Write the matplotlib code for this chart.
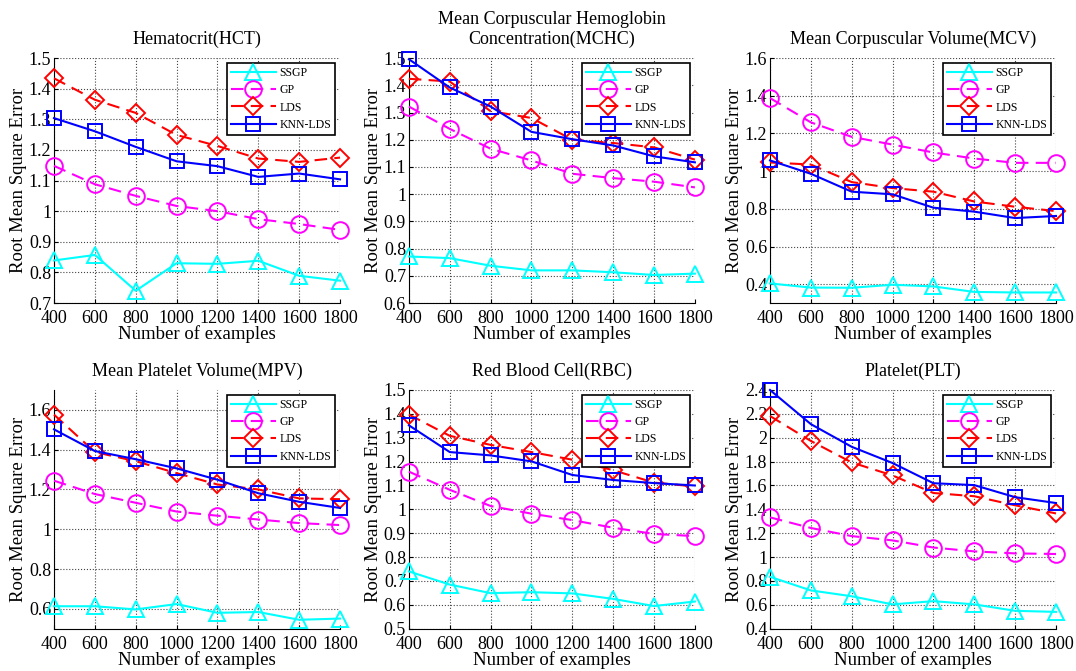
import matplotlib
matplotlib.use("Agg")
import matplotlib.pyplot as plt

plt.rcParams["font.family"] = ["Liberation Serif", "DejaVu Serif"]

# x 轴：训练样本数
n_examples = [400, 600, 800, 1000, 1200, 1400, 1600, 1800]
methods = ["SSGP", "GP", "LDS", "KNN-LDS"]

titles = [
    "Hematocrit(HCT)",
    "Mean Corpuscular Hemoglobin\nConcentration(MCHC)",
    "Mean Corpuscular Volume(MCV)",
    "Mean Platelet Volume(MPV)",
    "Red Blood Cell(RBC)",
    "Platelet(PLT)",
]

# 每个子图的 RMSE（顺序: SSGP, GP, LDS, KNN-LDS）
hct_ssgp = [0.839, 0.857, 0.740, 0.830, 0.828, 0.838, 0.789, 0.773]
hct_gp = [1.148, 1.088, 1.050, 1.017, 1.000, 0.974, 0.958, 0.939]
hct_lds = [1.434, 1.364, 1.321, 1.249, 1.213, 1.172, 1.161, 1.175]
hct_knn = [1.304, 1.261, 1.210, 1.163, 1.147, 1.112, 1.123, 1.104]

mchc_ssgp = [0.771, 0.765, 0.737, 0.720, 0.720, 0.713, 0.703, 0.708]
mchc_gp = [1.322, 1.240, 1.167, 1.124, 1.075, 1.059, 1.046, 1.025]
mchc_lds = [1.424, 1.414, 1.305, 1.280, 1.200, 1.188, 1.172, 1.127]
mchc_knn = [1.496, 1.392, 1.322, 1.229, 1.202, 1.179, 1.139, 1.117]

mcv_ssgp = [0.404, 0.382, 0.381, 0.397, 0.388, 0.359, 0.356, 0.356]
mcv_gp = [1.388, 1.259, 1.182, 1.141, 1.099, 1.067, 1.044, 1.044]
mcv_lds = [1.046, 1.035, 0.942, 0.910, 0.891, 0.839, 0.811, 0.788]
mcv_knn = [1.057, 0.986, 0.891, 0.877, 0.806, 0.785, 0.751, 0.762]

mpv_ssgp = [0.613, 0.613, 0.597, 0.624, 0.580, 0.584, 0.545, 0.551]
mpv_gp = [1.244, 1.177, 1.133, 1.089, 1.068, 1.049, 1.031, 1.021]
mpv_lds = [1.576, 1.388, 1.342, 1.282, 1.225, 1.200, 1.155, 1.151]
mpv_knn = [1.502, 1.393, 1.352, 1.306, 1.249, 1.181, 1.138, 1.107]

rbc_ssgp = [0.740, 0.685, 0.649, 0.653, 0.648, 0.625, 0.595, 0.614]
rbc_gp = [1.158, 1.082, 1.014, 0.982, 0.955, 0.923, 0.897, 0.888]
rbc_lds = [1.397, 1.308, 1.270, 1.240, 1.208, 1.164, 1.112, 1.096]
rbc_knn = [1.352, 1.240, 1.226, 1.201, 1.144, 1.123, 1.110, 1.100]

plt_ssgp = [0.835, 0.721, 0.672, 0.604, 0.631, 0.604, 0.550, 0.541]
plt_gp = [1.333, 1.244, 1.176, 1.140, 1.080, 1.048, 1.031, 1.026]
plt_lds = [2.182, 1.973, 1.793, 1.684, 1.537, 1.510, 1.434, 1.366]
plt_knn = [2.400, 2.114, 1.924, 1.788, 1.619, 1.603, 1.502, 1.453]

all_data = [
    [hct_ssgp, hct_gp, hct_lds, hct_knn],
    [mchc_ssgp, mchc_gp, mchc_lds, mchc_knn],
    [mcv_ssgp, mcv_gp, mcv_lds, mcv_knn],
    [mpv_ssgp, mpv_gp, mpv_lds, mpv_knn],
    [rbc_ssgp, rbc_gp, rbc_lds, rbc_knn],
    [plt_ssgp, plt_gp, plt_lds, plt_knn],
]

# 纵轴范围与刻度
ylims = [(0.7, 1.5), (0.6, 1.5), (0.3, 1.6), (0.5, 1.7), (0.5, 1.5), (0.4, 2.4)]
ytick_sets = [
    [0.7, 0.8, 0.9, 1.0, 1.1, 1.2, 1.3, 1.4, 1.5],
    [0.6, 0.7, 0.8, 0.9, 1.0, 1.1, 1.2, 1.3, 1.4, 1.5],
    [0.4, 0.6, 0.8, 1.0, 1.2, 1.4, 1.6],
    [0.6, 0.8, 1.0, 1.2, 1.4, 1.6],
    [0.5, 0.6, 0.7, 0.8, 0.9, 1.0, 1.1, 1.2, 1.3, 1.4, 1.5],
    [0.4, 0.6, 0.8, 1.0, 1.2, 1.4, 1.6, 1.8, 2.0, 2.2, 2.4],
]

styles = [
    dict(color="#00FFFF", marker="^", linestyle="-", markersize=12),
    dict(color="#FF00FF", marker="o", linestyle=(0, (6, 3.5)), markersize=12),
    dict(color="#FF0000", marker="D", linestyle=(0, (6, 3.5)), markersize=9.5),
    dict(color="#0000FF", marker="s", linestyle="-", markersize=10.5),
]

fig = plt.figure(figsize=(10.76, 6.71), dpi=100)

# 子图位置（图像坐标比例）
lefts = [0.0502, 0.380, 0.7156]
bottoms = [0.5484, 0.063]
width = 0.2658
heights = [0.365, 0.3558]


def fmt_tick(v):
    s = f"{v:.1f}"
    if s.endswith(".0"):
        s = s[:-2]
    return s


for idx in range(6):
    r, c = divmod(idx, 3)
    ax = fig.add_axes([lefts[c], bottoms[r], width, heights[r]])
    for series, name, st in zip(all_data[idx], methods, styles):
        ax.plot(n_examples, series, label=name, linewidth=1.5,
                markerfacecolor="none", markeredgewidth=1.4, clip_on=False,
                zorder=3, **st)
    ax.set_xlim(400, 1800)
    ax.set_ylim(*ylims[idx])
    ax.set_xticks(n_examples)
    ax.set_yticks(ytick_sets[idx])
    ax.set_yticklabels([fmt_tick(v) for v in ytick_sets[idx]])
    ax.tick_params(direction="in", labelsize=13, length=3)
    ax.tick_params(axis="x", pad=5)
    ax.tick_params(axis="y", pad=2)
    ax.grid(True, linestyle=":", color="#444444", linewidth=0.8)
    ax.spines["top"].set_visible(False)
    ax.spines["right"].set_visible(False)
    ax.set_title(titles[idx], fontsize=13, pad=10, linespacing=1.25)
    ax.set_xlabel("Number of examples", fontsize=13.5, labelpad=-1)
    ax.set_ylabel("Root Mean Square Error", fontsize=13.5, labelpad=1)
    leg = ax.legend(loc="upper right", fontsize=8.5, handlelength=3.8,
                    handletextpad=0.3, borderaxespad=0.4, labelspacing=0.45,
                    fancybox=False, framealpha=1, borderpad=0.35)
    leg.get_frame().set_edgecolor("black")
    leg.get_frame().set_linewidth(1.2)
    leg.set_zorder(5)

fig.savefig("out.png", dpi=100)
